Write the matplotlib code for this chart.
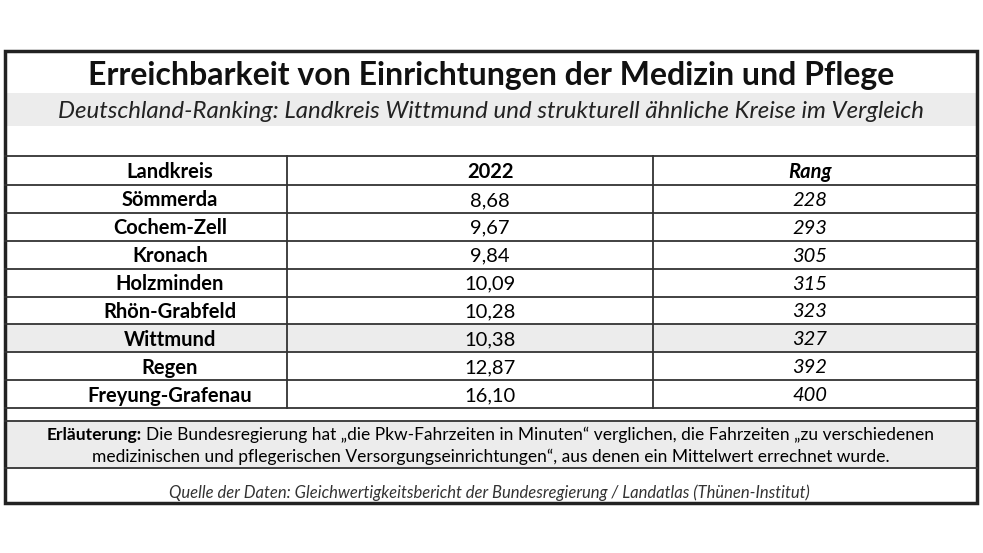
import matplotlib.pyplot as plt
from matplotlib.patches import Rectangle

kreise = ["Sömmerda", "Cochem-Zell", "Kronach", "Holzminden", "Rhön-Grabfeld",
          "Wittmund", "Regen", "Freyung-Grafenau"]
werte = ["8,68", "9,67", "9,84", "10,09", "10,28", "10,38", "12,87", "16,10"]
raenge = ["228", "293", "305", "315", "323", "327", "392", "400"]

plt.rcParams['font.family'] = ['Lato', 'DejaVu Sans']
fig = plt.figure(figsize=(9.83, 5.53), dpi=100)
ax = fig.add_axes([0, 0, 1, 1])
ax.set_xlim(0, 983)
ax.set_ylim(553, 0)
ax.axis('off')

L, R, T, B = 5, 977, 51, 503
gray = "#ececec"
# Hintergründe
ax.add_patch(Rectangle((L, 93), R - L, 33, color=gray, lw=0))
ax.add_patch(Rectangle((L, 421), R - L, 47, color=gray, lw=0))
top = 185
h = (408 - top) / len(kreise)
wi = kreise.index("Wittmund")
ax.add_patch(Rectangle((L, top + wi * h), R - L, h, color=gray, lw=0))

# Linien
for y in [156, 185] + [top + i * h for i in range(1, len(kreise) + 1)] + [421, 468]:
    ax.plot([L, R], [y, y], color="#333333", lw=1.3)
for x in [287, 653]:
    ax.plot([x, x], [156, 408], color="#333333", lw=1.3)
ax.add_patch(Rectangle((L, T), R - L, B - T, fill=False, ec="#222222", lw=2.5))

ax.text(491, 76, "Erreichbarkeit von Einrichtungen der Medizin und Pflege",
        ha='center', va='center', fontsize=23, fontweight='bold', color="#111111")
ax.text(491, 111, "Deutschland-Ranking: Landkreis Wittmund und strukturell ähnliche Kreise im Vergleich",
        ha='center', va='center', fontsize=17.3, style='italic', color="#222222")

fs = 14.5
ax.text(170, 172, "Landkreis", ha='center', va='center', fontsize=fs, fontweight='bold')
ax.text(490, 172, "2022", ha='center', va='center', fontsize=fs, fontweight='bold')
ax.text(810, 172, "Rang", ha='center', va='center', fontsize=fs, fontweight='bold', style='italic')
for i, (k, w, r) in enumerate(zip(kreise, werte, raenge)):
    yc = top + (i + 0.5) * h + 1.5
    ax.text(170, yc, k, ha='center', va='center', fontsize=fs, fontweight='bold')
    ax.text(490, yc, w, ha='center', va='center', fontsize=fs)
    ax.text(810, yc, r, ha='center', va='center', fontsize=fs, style='italic')

# Erläuterung: fetter Anfang, Rest direkt dahinter
t1 = ax.text(47, 435, "Erläuterung:", ha='left', va='center', fontsize=12.5, fontweight='bold')
fig.canvas.draw()
bb = t1.get_window_extent()
x_end = ax.transData.inverted().transform((bb.x1, bb.y0))[0]
ax.text(x_end + 4, 435, "Die Bundesregierung hat „die Pkw-Fahrzeiten in Minuten“ verglichen, die Fahrzeiten „zu verschiedenen",
        ha='left', va='center', fontsize=12.5)
ax.text(491, 457, "medizinischen und pflegerischen Versorgungseinrichtungen“, aus denen ein Mittelwert errechnet wurde.",
        ha='center', va='center', fontsize=12.5)
ax.text(489, 493, "Quelle der Daten: Gleichwertigkeitsbericht der Bundesregierung / Landatlas (Thünen-Institut)",
        ha='center', va='center', fontsize=12, style='italic', color="#333333")

fig.savefig("out.png", dpi=100)
